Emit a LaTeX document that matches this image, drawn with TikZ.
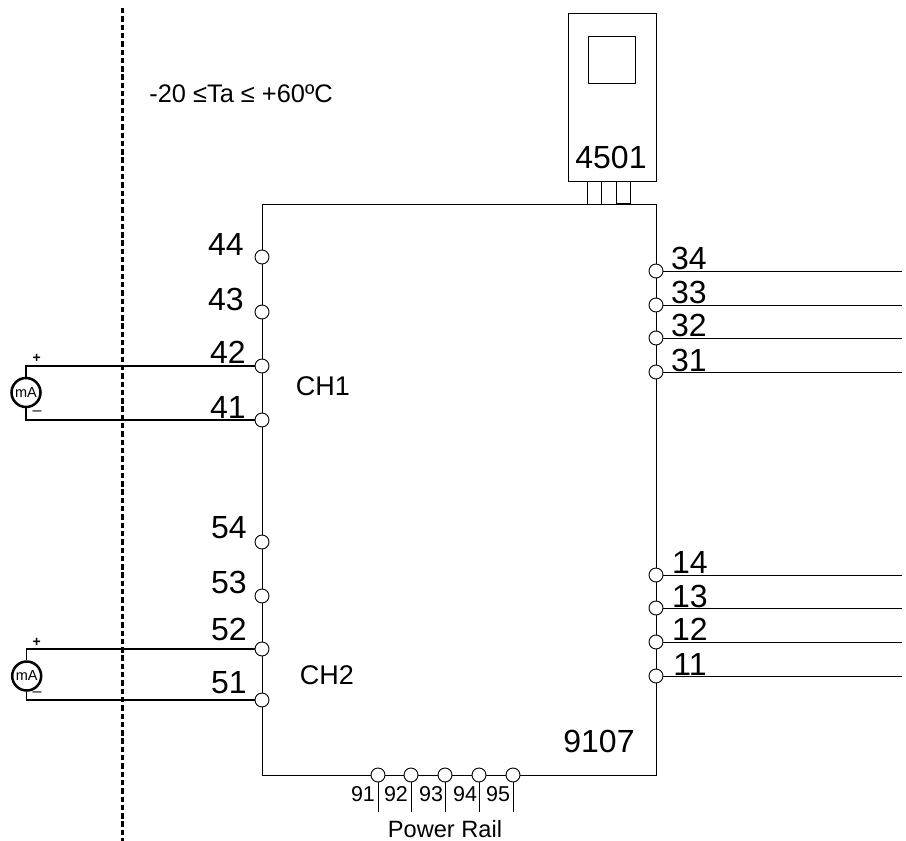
\documentclass[tikz,border=0pt]{standalone}
\usepackage{fontspec}
\setmainfont{Liberation Sans}
\begin{document}
\begin{tikzpicture}[x=1pt,y=-1pt,
  term/.style={draw,circle,fill=white,inner sep=0pt,minimum size=14pt,line width=0.9pt},
  num/.style={inner sep=0pt,font=\fontsize{32}{36}\selectfont},
  railnum/.style={inner sep=0pt,font=\fontsize{21.5}{24}\selectfont},
  txt/.style={inner sep=0pt,font=\fontsize{25.4}{28}\selectfont},
  chan/.style={inner sep=0pt,font=\fontsize{27}{30}\selectfont},
  railtxt/.style={inner sep=0pt,font=\fontsize{23.6}{26}\selectfont},
  sign/.style={inner sep=0pt,font=\fontsize{14}{15}\selectfont\bfseries},
  minussign/.style={inner sep=0pt,font=\fontsize{16}{17}\selectfont},
  meter/.style={draw,circle,line width=2.5pt,inner sep=0pt,minimum size=29pt,font=\fontsize{14.5}{16}\selectfont},
  wire/.style={line width=0.9pt},
  loopwire/.style={line width=1.3pt},
  box/.style={draw,inner sep=0pt,line width=0.9pt}]
\useasboundingbox (0,0) rectangle (906,841);
% barrier
\coordinate (bartop) at (122.3,8);
\coordinate (barbot) at (122.3,841);
\draw[line width=3.6pt,dash pattern=on 5.4pt off 2.9pt] (bartop) -- (barbot);
\node[txt] (ta) at (241,94) {-20 ≤Ta ≤ +60ºC};
% main box
\node[box,minimum width=394pt,minimum height=571pt] (main) at (459,489.5) {};
\node[chan] (ch1) at (323,386) {CH1};
\node[chan] (ch2) at (327,675) {CH2};
\node[num] (name) at (599,741) {9107};
% display unit
\node[box,minimum width=88pt,minimum height=168pt] (disp) at (612,97) {};
\node[box,minimum width=47pt,minimum height=47pt] (screen) at (611.5,59.5) {};
\node[num] (dispname) at (611,157) {4501};
\coordinate (p1a) at (587,181);
\coordinate (p1b) at (587,204);
\coordinate (p2a) at (601,181);
\coordinate (p2b) at (601,204);
\coordinate (p3a) at (616,181);
\coordinate (p3b) at (616,204);
\coordinate (p4a) at (630,181);
\coordinate (p4b) at (630,204);
\draw[wire] (p1a) -- (p1b);
\draw[wire] (p2a) -- (p2b);
\draw[wire] (p3a) -- (p3b);
\draw[wire] (p4a) -- (p4b);
\draw[loopwire] (p3b) -- (p4b);
% left terminals
\node[term] (t44) at (262,257) {};
\node[term] (t43) at (262,312) {};
\node[term] (t42) at (262,366) {};
\node[term] (t41) at (262,420) {};
\node[term] (t54) at (262,542) {};
\node[term] (t53) at (262,596) {};
\node[term] (t52) at (262,649) {};
\node[term] (t51) at (262,700) {};
\node[num] (l44) at (226,244) {44};
\node[num] (l43) at (226,299) {43};
\node[num] (l42) at (228,352) {42};
\node[num] (l41) at (228,407) {41};
\node[num] (l54) at (229,528) {54};
\node[num] (l53) at (229,582) {53};
\node[num] (l52) at (229,629) {52};
\node[num] (l51) at (229,683) {51};
% meters
\node[meter] (ma1) at (26,392.5) {mA};
\node[meter] (ma2) at (26.7,676) {mA};
\coordinate (c42) at (26,366);
\coordinate (c41) at (26,420);
\coordinate (c52) at (26.7,649);
\coordinate (c51) at (26.7,700);
\draw[loopwire] (ma1) -- (c42) -- (t42);
\draw[loopwire] (ma1) -- (c41) -- (t41);
\draw[loopwire] (ma2) -- (c52) -- (t52);
\draw[loopwire] (ma2) -- (c51) -- (t51);
\node[sign] (plus1) at (36.7,358.5) {+};
\node[minussign] (minus1) at (37,412.7) {–};
\node[sign] (plus2) at (36.7,642.5) {+};
\node[minussign] (minus2) at (37,694) {–};
% right terminals
\node[term] (t34) at (656,271) {};
\node[term] (t33) at (656,305) {};
\node[term] (t32) at (656,338) {};
\node[term] (t31) at (656,372) {};
\node[term] (t14) at (656,575) {};
\node[term] (t13) at (656,608) {};
\node[term] (t12) at (656,642) {};
\node[term] (t11) at (656,676) {};
\coordinate (e34) at (902,271);
\coordinate (e33) at (902,305);
\coordinate (e32) at (902,338);
\coordinate (e31) at (902,372);
\coordinate (e14) at (902,575);
\coordinate (e13) at (902,608);
\coordinate (e12) at (902,642);
\coordinate (e11) at (902,676);
\draw[wire] (t34) -- (e34);
\draw[wire] (t33) -- (e33);
\draw[wire] (t32) -- (e32);
\draw[wire] (t31) -- (e31);
\draw[wire] (t14) -- (e14);
\draw[wire] (t13) -- (e13);
\draw[wire] (t12) -- (e12);
\draw[wire] (t11) -- (e11);
\node[num] (l34) at (689,258) {34};
\node[num] (l33) at (689,292) {33};
\node[num] (l32) at (689,325) {32};
\node[num] (l31) at (689,360) {31};
\node[num] (l14) at (690,562) {14};
\node[num] (l13) at (690,596) {13};
\node[num] (l12) at (690,629) {12};
\node[num] (l11) at (690,664) {11};
% power rail
\node[term] (t91) at (378,775) {};
\node[term] (t92) at (411,775) {};
\node[term] (t93) at (445,775) {};
\node[term] (t94) at (479,775) {};
\node[term] (t95) at (513,775) {};
\coordinate (e91) at (378,812);
\coordinate (e92) at (411,812);
\coordinate (e93) at (445,812);
\coordinate (e94) at (479,812);
\coordinate (e95) at (513,812);
\draw[wire] (t91) -- (e91);
\draw[wire] (t92) -- (e92);
\draw[wire] (t93) -- (e93);
\draw[wire] (t94) -- (e94);
\draw[wire] (t95) -- (e95);
\node[railnum] (l91) at (363,794) {91};
\node[railnum] (l92) at (396,794) {92};
\node[railnum] (l93) at (431,794) {93};
\node[railnum] (l94) at (465,794) {94};
\node[railnum] (l95) at (498,794) {95};
\node[railtxt] (rail) at (445,829) {Power Rail};
\end{tikzpicture}
\end{document}
